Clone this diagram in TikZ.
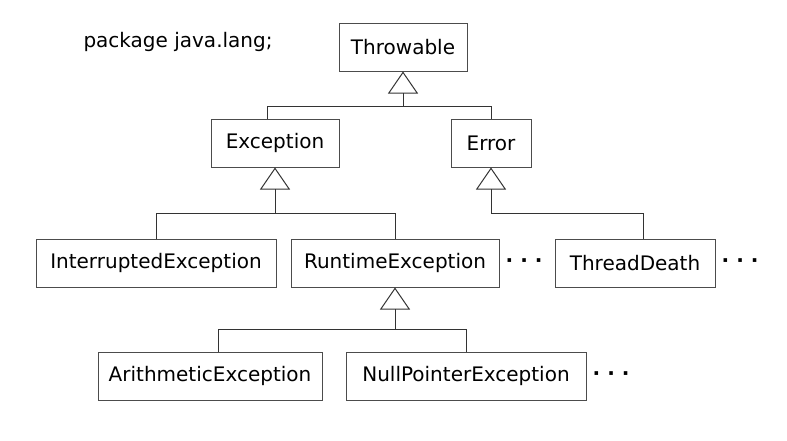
\documentclass[tikz,border=0pt]{standalone}
\usepackage{fontspec}
\setmainfont{DejaVu Sans}
\usetikzlibrary{arrows.meta, positioning, calc}

\begin{document}
\begin{tikzpicture}[
    x=1pt, y=-1pt,
    every node/.style={font=\fontsize{20}{24}\selectfont},
    cls/.style={draw=black!70, line width=1pt, minimum height=48pt, inner sep=0pt},
    tree/.style={draw=black!80, line width=1pt},
    inh/.style={tree, -{Triangle[open, length=22pt, width=30pt]}},
    dots/.style={inner sep=0pt, font=\fontsize{20}{24}\selectfont\bfseries}
]
\useasboundingbox (0,0) rectangle (787,440);
\node[anchor=base west] (pkg) at (80,47) {package java.lang;};
% classes: name/x/y/width/label
\foreach \id/\x/\y/\w/\txt in {thr/403/47/128/Throwable, exc/275/143/128/Exception, err/491/143/80/Error,
    intr/156/263/240/InterruptedException, rte/395/263/208/RuntimeException, td/635/263/160/ThreadDeath,
    ari/210/376/224/ArithmeticException, npe/466/376/240/NullPointerException}{
    \node[cls, minimum width=\w pt] (\id) at (\x,\y) {\txt};
}
% Throwable
\coordinate (thr-j) at ($(thr.south)+(0,35)$);
\draw[tree] ([xshift=-8pt]exc.north) |- (thr-j) -| (err.north);
\draw[inh] (thr-j) -- (thr.south);
% Exception
\coordinate (exc-j) at ($(exc.south)+(0,46)$);
\draw[tree] (intr.north) |- (exc-j) -| (rte.north);
\draw[inh] (exc-j) -- (exc.south);
% Error
\coordinate (err-j) at ($(err.south)+(0,46)$);
\draw[tree] (err-j) -| ([xshift=8pt]td.north);
\draw[inh] (err-j) -- (err.south);
% RuntimeException
\coordinate (rte-j) at ($(rte.south)+(0,42)$);
\draw[tree] ([xshift=8pt]ari.north) |- (rte-j) -| (npe.north);
\draw[inh] (rte-j) -- (rte.south);
% more subclasses
\foreach \id in {rte, td, npe}{
    \node[dots, right=6pt of \id] (\id-more) {· · ·};
}
\end{tikzpicture}
\end{document}
